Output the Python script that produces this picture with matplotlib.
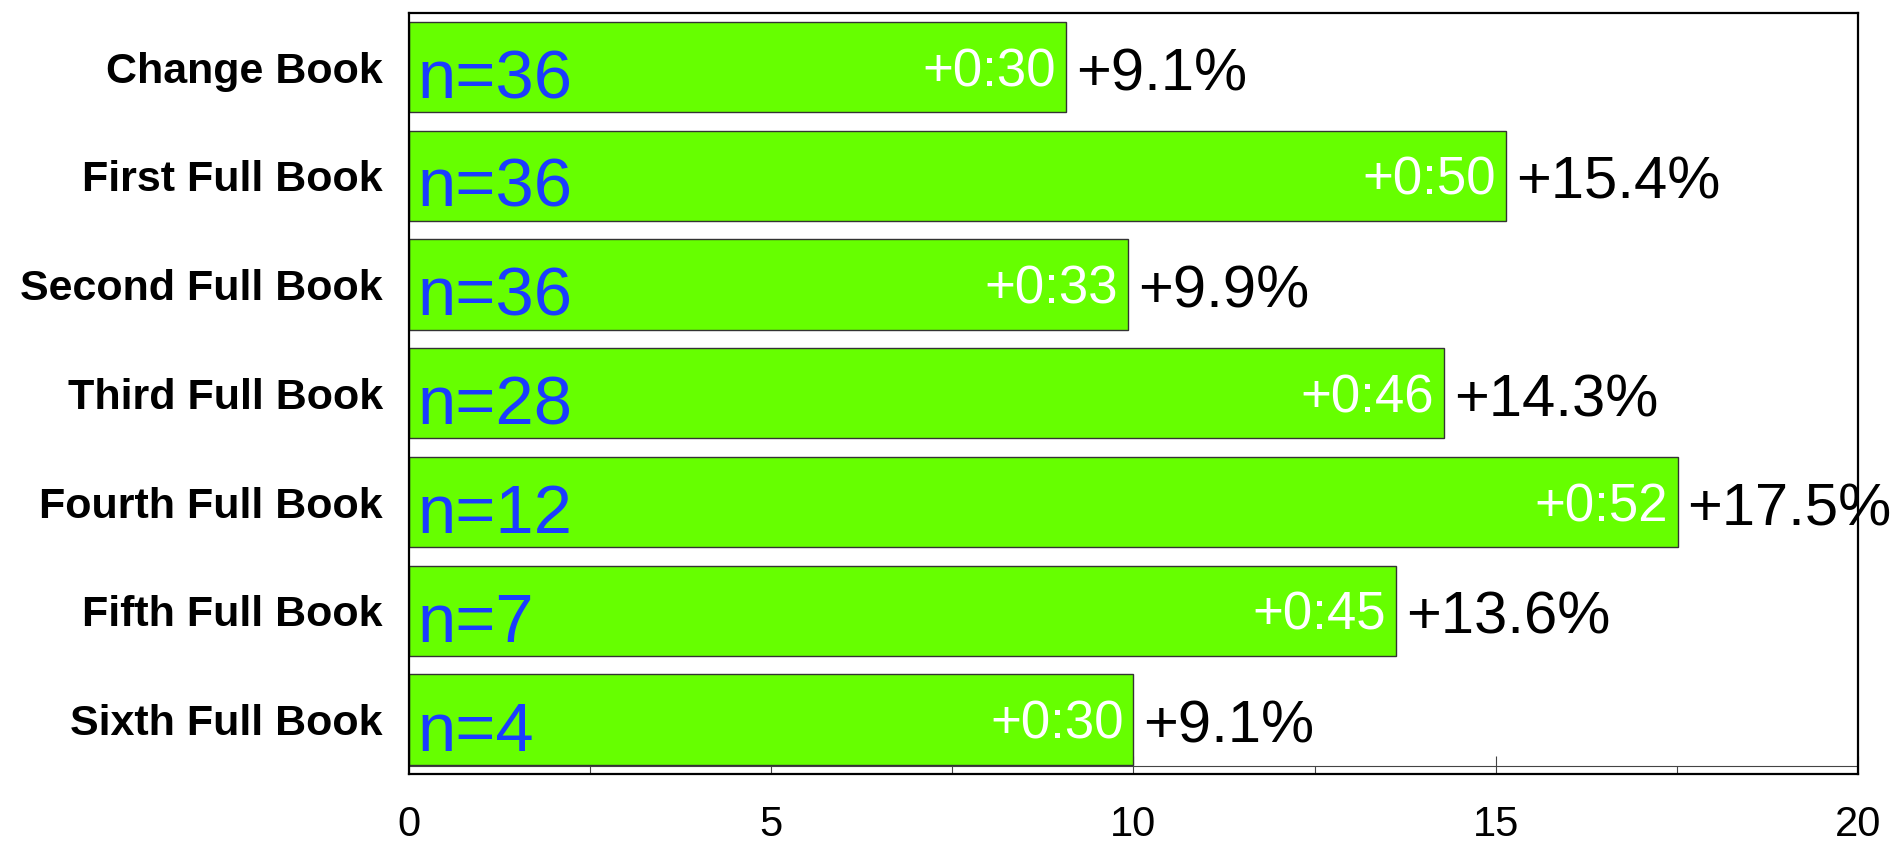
import matplotlib
matplotlib.use("Agg")
import matplotlib.pyplot as plt
from matplotlib.ticker import MultipleLocator

plt.rcParams['font.family'] = ['Liberation Sans', 'DejaVu Sans']

# ---------------- data ----------------
books = ['Change Book', 'First Full Book', 'Second Full Book', 'Third Full Book',
         'Fourth Full Book', 'Fifth Full Book', 'Sixth Full Book']
values = [9.07, 15.14, 9.93, 14.29, 17.51, 13.63, 10.0]
n_labels = ['n=36', 'n=36', 'n=36', 'n=28', 'n=12', 'n=7', 'n=4']
time_labels = ['+0:30', '+0:50', '+0:33', '+0:46', '+0:52', '+0:45', '+0:30']
pct_labels = ['+9.1%', '+15.4%', '+9.9%', '+14.3%', '+17.5%', '+13.6%', '+9.1%']

BAR_GREEN = '#66ff00'
N_BLUE = '#1a3cff'

fig = plt.figure(figsize=(18.98, 8.44), dpi=100)
ax = fig.add_axes([0.2155, 0.083, 0.7634, 0.902])

pos = list(range(len(books)))
bars = ax.barh(pos, values, height=0.83, color=BAR_GREEN,
               edgecolor='#333333', linewidth=1.0, zorder=2)

ax.set_xlim(0, 20)
ax.set_ylim(len(books) - 0.5, -0.5)

# labels on and next to each bar
for i, b in enumerate(bars):
    w = b.get_width()
    yc = b.get_y() + b.get_height() / 2
    ax.annotate(n_labels[i], (0, yc), xytext=(8, -31), textcoords='offset pixels',
                ha='left', va='baseline', fontsize=49.5, color=N_BLUE, zorder=3)
    ax.annotate(time_labels[i], (w, yc), xytext=(-10, -19), textcoords='offset pixels',
                ha='right', va='baseline', fontsize=38, color='white', zorder=3)
    ax.annotate(pct_labels[i], (w, yc), xytext=(10, -23), textcoords='offset pixels',
                ha='left', va='baseline', fontsize=43, color='black', zorder=3,
                annotation_clip=False)

# thin inner base line of the plot area
ax.plot([0, 1], [0.0105, 0.0105], transform=ax.transAxes, color='#444444',
        linewidth=0.8, zorder=1)

ax.set_yticks(pos)
ax.set_yticklabels(books, fontsize=31, fontweight='bold')
ax.tick_params(axis='y', length=0, pad=19)

ax.xaxis.set_major_locator(MultipleLocator(5))
ax.xaxis.set_minor_locator(MultipleLocator(2.5))
ax.tick_params(axis='x', which='major', direction='in', length=13, width=0.8,
               color='#444444', labelsize=30, pad=22)
ax.tick_params(axis='x', which='minor', direction='in', length=6, width=0.8,
               color='#444444')

for s in ax.spines.values():
    s.set_linewidth(1.6)
    s.set_color('black')

fig.savefig('out.png', dpi=100)
